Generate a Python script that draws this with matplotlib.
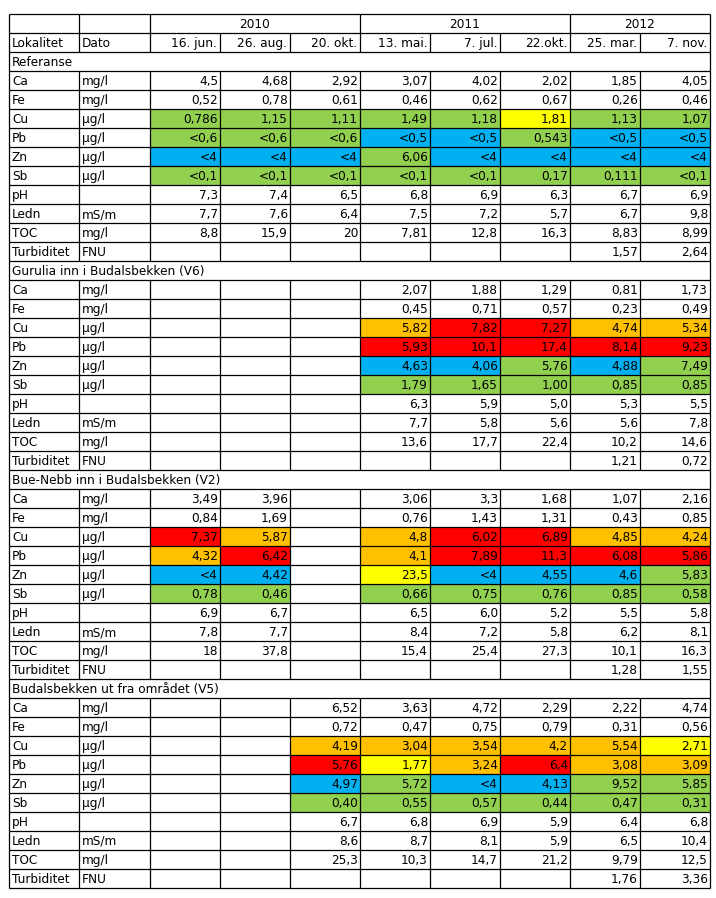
import matplotlib.pyplot as plt
from matplotlib.patches import Rectangle

# table content
years = ['2010', '2011', '2012']
year_span = [3, 3, 2]
dates = ['16. jun.', '26. aug.', '20. okt.', '13. mai.', '7. jul.', '22.okt.', '25. mar.', '7. nov.']
params = ['Ca', 'Fe', 'Cu', 'Pb', 'Zn', 'Sb', 'pH', 'Ledn', 'TOC', 'Turbiditet']
units = ['mg/l', 'mg/l', 'µg/l', 'µg/l', 'µg/l', 'µg/l', '', 'mS/m', 'mg/l', 'FNU']
sections = ['Referanse', 'Gurulia inn i Budalsbekken (V6)',
            'Bue-Nebb inn i Budalsbekken (V2)', 'Budalsbekken ut fra området (V5)']

ref_vals = [
    ['4,5', '4,68', '2,92', '3,07', '4,02', '2,02', '1,85', '4,05'],
    ['0,52', '0,78', '0,61', '0,46', '0,62', '0,67', '0,26', '0,46'],
    ['0,786', '1,15', '1,11', '1,49', '1,18', '1,81', '1,13', '1,07'],
    ['<0,6', '<0,6', '<0,6', '<0,5', '<0,5', '0,543', '<0,5', '<0,5'],
    ['<4', '<4', '<4', '6,06', '<4', '<4', '<4', '<4'],
    ['<0,1', '<0,1', '<0,1', '<0,1', '<0,1', '0,17', '0,111', '<0,1'],
    ['7,3', '7,4', '6,5', '6,8', '6,9', '6,3', '6,7', '6,9'],
    ['7,7', '7,6', '6,4', '7,5', '7,2', '5,7', '6,7', '9,8'],
    ['8,8', '15,9', '20', '7,81', '12,8', '16,3', '8,83', '8,99'],
    ['', '', '', '', '', '', '1,57', '2,64'],
]
ref_cls = ['', '', 'GGGGGYGG', 'GGGBBGBB', 'BBBGBBBB', 'GGGGGGGG', '', '', '', '']

v6_vals = [
    ['', '', '', '2,07', '1,88', '1,29', '0,81', '1,73'],
    ['', '', '', '0,45', '0,71', '0,57', '0,23', '0,49'],
    ['', '', '', '5,82', '7,82', '7,27', '4,74', '5,34'],
    ['', '', '', '5,93', '10,1', '17,4', '8,14', '9,23'],
    ['', '', '', '4,63', '4,06', '5,76', '4,88', '7,49'],
    ['', '', '', '1,79', '1,65', '1,00', '0,85', '0,85'],
    ['', '', '', '6,3', '5,9', '5,0', '5,3', '5,5'],
    ['', '', '', '7,7', '5,8', '5,6', '5,6', '7,8'],
    ['', '', '', '13,6', '17,7', '22,4', '10,2', '14,6'],
    ['', '', '', '', '', '', '1,21', '0,72'],
]
v6_cls = ['', '', '---ORROO', '---RRRRR', '---BBGBG', '---GGGGG', '', '', '', '']

v2_vals = [
    ['3,49', '3,96', '', '3,06', '3,3', '1,68', '1,07', '2,16'],
    ['0,84', '1,69', '', '0,76', '1,43', '1,31', '0,43', '0,85'],
    ['7,37', '5,87', '', '4,8', '6,02', '6,89', '4,85', '4,24'],
    ['4,32', '6,42', '', '4,1', '7,89', '11,3', '6,08', '5,86'],
    ['<4', '4,42', '', '23,5', '<4', '4,55', '4,6', '5,83'],
    ['0,78', '0,46', '', '0,66', '0,75', '0,76', '0,85', '0,58'],
    ['6,9', '6,7', '', '6,5', '6,0', '5,2', '5,5', '5,8'],
    ['7,8', '7,7', '', '8,4', '7,2', '5,8', '6,2', '8,1'],
    ['18', '37,8', '', '15,4', '25,4', '27,3', '10,1', '16,3'],
    ['', '', '', '', '', '', '1,28', '1,55'],
]
v2_cls = ['', '', 'RO-ORROO', 'OR-ORRRR', 'BB-YBBBG', 'GG-GGGGG', '', '', '', '']

v5_vals = [
    ['', '', '6,52', '3,63', '4,72', '2,29', '2,22', '4,74'],
    ['', '', '0,72', '0,47', '0,75', '0,79', '0,31', '0,56'],
    ['', '', '4,19', '3,04', '3,54', '4,2', '5,54', '2,71'],
    ['', '', '5,76', '1,77', '3,24', '6,4', '3,08', '3,09'],
    ['', '', '4,97', '5,72', '<4', '4,13', '9,52', '5,85'],
    ['', '', '0,40', '0,55', '0,57', '0,44', '0,47', '0,31'],
    ['', '', '6,7', '6,8', '6,9', '5,9', '6,4', '6,8'],
    ['', '', '8,6', '8,7', '8,1', '5,9', '6,5', '10,4'],
    ['', '', '25,3', '10,3', '14,7', '21,2', '9,79', '12,5'],
    ['', '', '', '', '', '', '1,76', '3,36'],
]
v5_cls = ['', '', '--OOOOOY', '--RYOROO', '--BGBBGG', '--GGGGGG', '', '', '', '']

all_vals = [ref_vals, v6_vals, v2_vals, v5_vals]
all_cls = [ref_cls, v6_cls, v2_cls, v5_cls]

# G=green, Y=yellow, B=blue, O=orange, R=red
colors = {'G': '#92D050', 'Y': '#FFFF00', 'B': '#00B0F0', 'O': '#FFC000', 'R': '#FF0000'}

# layout (pixels)
x_edges = [9, 79, 150, 220, 290, 360, 430, 500, 570, 640, 710]
top, rh = 14, 19
lw = 0.9
fs = 8.7
font = ['DejaVu Sans']

fig = plt.figure(figsize=(7.16, 8.98), dpi=100)
ax = fig.add_axes([0, 0, 1, 1])
ax.set_xlim(0, 716)
ax.set_ylim(898, 0)
ax.axis('off')


def ry(r):
    return top + r * rh


def hline(r, x0=x_edges[0], x1=x_edges[-1]):
    ax.plot([x0, x1], [ry(r), ry(r)], color='black', lw=lw, solid_capstyle='butt')


def vline(x, r0, r1):
    ax.plot([x, x], [ry(r0), ry(r1)], color='black', lw=lw, solid_capstyle='butt')


def txt(x, r, s, ha='left'):
    # common baseline so mixed glyph heights line up
    ax.text(x, ry(r) + 14, s, ha=ha, va='baseline', fontsize=fs, family=font)


# year row
hline(0)
vline(x_edges[0], 0, 1)
vline(x_edges[1], 0, 1)
c = 2
for y, sp in zip(years, year_span):
    vline(x_edges[c], 0, 1)
    txt((x_edges[c] + x_edges[c + sp]) / 2, 0, y, ha='center')
    c += sp
vline(x_edges[-1], 0, 1)

# header row
hline(1)
for x in x_edges:
    vline(x, 1, 2)
txt(x_edges[0] + 3, 1, 'Lokalitet')
txt(x_edges[1] + 3, 1, 'Dato')
for j, d in enumerate(dates):
    txt(x_edges[j + 3] - 3, 1, d, ha='right')

r = 2
for name, vals, cls in zip(sections, all_vals, all_cls):
    hline(r)
    vline(x_edges[0], r, r + 1)
    vline(x_edges[-1], r, r + 1)
    txt(x_edges[0] + 3, r, name)
    r += 1
    for i in range(len(params)):
        code = cls[i]
        for j, v in enumerate(vals[i]):
            if code and code[j] in colors:
                ax.add_patch(Rectangle((x_edges[j + 2], ry(r)), x_edges[j + 3] - x_edges[j + 2], rh,
                                       facecolor=colors[code[j]], edgecolor='none', zorder=0))
            if v:
                txt(x_edges[j + 3] - 2, r, v, ha='right')
        hline(r)
        for x in x_edges:
            vline(x, r, r + 1)
        txt(x_edges[0] + 3, r, params[i])
        txt(x_edges[1] + 3, r, units[i])
        r += 1
hline(r)

fig.savefig('out.png', dpi=100)
